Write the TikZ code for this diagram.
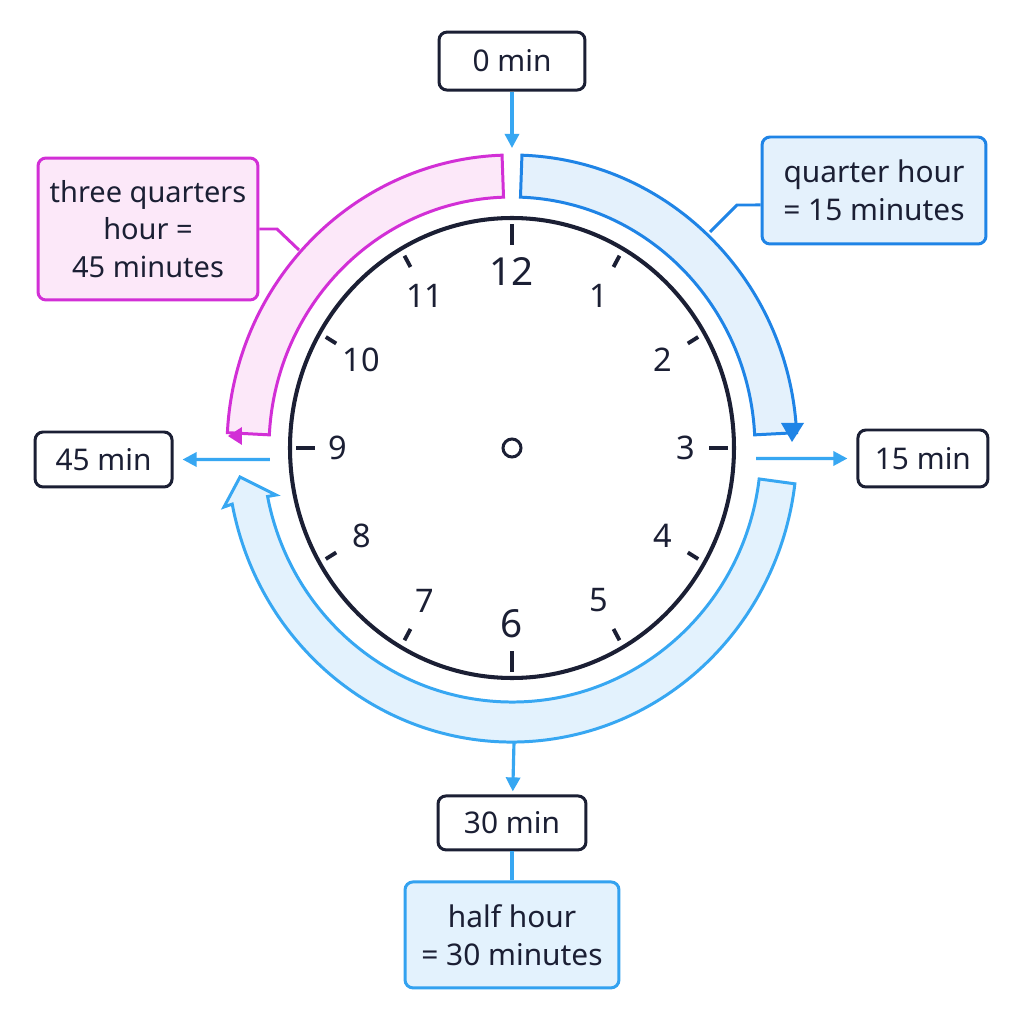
\documentclass[tikz,border=0pt]{standalone}
\usepackage{fontspec}
\setmainfont{Noto Sans}
\usetikzlibrary{arrows.meta}
\definecolor{ink}{HTML}{1B1F34}
\definecolor{qblue}{HTML}{1F84E6}
\definecolor{qfill}{HTML}{E4F1FC}
\definecolor{sky}{HTML}{37A7F2}
\definecolor{hfill}{HTML}{E3F2FD}
\definecolor{mag}{HTML}{D22FD6}
\definecolor{magfill}{HTML}{FCE8F9}
\begin{document}
\begin{tikzpicture}[
  x=0.02cm, y=0.02cm,
  box/.style={rectangle, rounded corners=0.16cm, draw=ink, line width=1.7pt, fill=white, text=ink, align=center, inner sep=0pt, font=\fontsize{17}{21.5}\selectfont},
  qnote/.style={box, draw=qblue, fill=qfill},
  hnote/.style={box, draw=sky!85!qblue, fill=hfill},
  mnote/.style={box, draw=mag, fill=magfill, font=\fontsize{16.5}{21.5}\selectfont},
  qband/.style={draw=qblue, fill=qfill, line width=1.7pt},
  hband/.style={draw=sky, fill=hfill, line width=1.7pt},
  mband/.style={draw=mag, fill=magfill, line width=1.7pt},
  tick/.style={ink, line width=2.2pt},
  num/.style={text=ink, inner sep=0pt},
  tip/.style={sky, line width=1.8pt, -{Triangle[width=8pt,length=8pt]}},
  node distance=2cm
]
\useasboundingbox[fill=white] (-512,-576) rectangle (512,448);

% bands round the face
\draw[mband] (92:243 and 251) arc[start angle=92, end angle=177, x radius=243, y radius=251]
  -- (177:285 and 293) arc[start angle=177, end angle=92, x radius=285, y radius=293] -- cycle;
\fill[mag] (-284,12) -- (-270,21) -- (-270,3) -- cycle;
\draw[qband] (88:243 and 251) arc[start angle=88, end angle=3, x radius=243, y radius=251]
  -- (3:285 and 293) arc[start angle=3, end angle=88, x radius=285, y radius=293] -- cycle;
\fill[qblue] (280,6) -- (269,25) -- (292,25) -- cycle;
\draw[hband] (-7:249 and 254) arc[start angle=-7, end angle=-169, x radius=249, y radius=254]
  -- (-236,-47) -- (-272,-29) -- (-288,-59)
  -- (-169:285 and 294) arc[start angle=-169, end angle=-7, x radius=285, y radius=294] -- cycle;

% face
\draw[ink, line width=2.3pt] (0,0) ellipse[x radius=222, y radius=230];
\foreach \a in {0,30,...,330}{
  \pgfmathtruncatemacro\major{mod(\a,90)==0}
  \ifnum\major=1
    \draw[tick] (\a:197 and 203) -- (\a:216 and 224);
  \else
    \draw[tick] (\a:203 and 209) -- (\a:215 and 222);
  \fi
}
\foreach \h in {1,...,12}{
  \pgfmathsetmacro\fs{(\h==6||\h==12) ? 22 : 18.5}
  \node[num, font=\fontsize{\fs}{\fs}\selectfont] (n\h) at ({90-30*\h}:174 and 176) {\h};
}
\node[circle, draw=ink, line width=1.7pt, fill=white, minimum size=0.36cm, inner sep=0pt] (ctr) at (0,0) {};

% minute boxes
\node[box, minimum width=2.92cm, minimum height=1.16cm, above of=ctr, node distance=7.74cm] (zero) {0 min};
\node[box, minimum width=2.74cm, minimum height=1.1cm, left of=ctr, node distance=8.17cm, yshift=-0.23cm] (fortyfive) {45 min};
\node[box, minimum width=2.6cm, minimum height=1.14cm, right of=ctr, node distance=8.22cm, yshift=-0.21cm] (fifteen) {15 min};
\node[box, minimum width=2.96cm, minimum height=1.08cm, below of=ctr, node distance=7.5cm] (thirty) {30 min};

% notes
\node[hnote, minimum width=4.28cm, minimum height=2.12cm, below of=thirty, node distance=2.24cm] (half) {half hour\\= 30 minutes};
\node[qnote, minimum width=4.48cm, minimum height=2.14cm] (quarter) at (362,257.5) {quarter hour\\= 15 minutes};
\node[mnote, minimum width=4.4cm, minimum height=2.84cm] (threeq) at (-364,219) {three quarters\\hour =\\45 minutes};

\coordinate (top) at (0,300);
\coordinate (left) at (-242,-11.5);
\coordinate (right) at (244,-10.5);
\coordinate (bottom) at (2,-294);
\coordinate (qpin) at (198,216);
\coordinate (mpin) at (-213,198);

\draw[tip] (zero) -- (top);
\draw[tip, shorten >=0.18cm] (left) -- (fortyfive);
\draw[tip, shorten >=0.18cm] (right) -- (fifteen);
\draw[tip, shorten >=0.06cm] (bottom) -- (thirty);
\draw[sky, line width=1.8pt] (thirty) -- (half);
\draw[qblue, line width=1.7pt] (qpin) -- ++(27,27) -- ([yshift=-0.29cm]quarter.west);
\draw[mag, line width=1.7pt] (mpin) -- ++(-22,21) -- (threeq.east);
\end{tikzpicture}
\end{document}
